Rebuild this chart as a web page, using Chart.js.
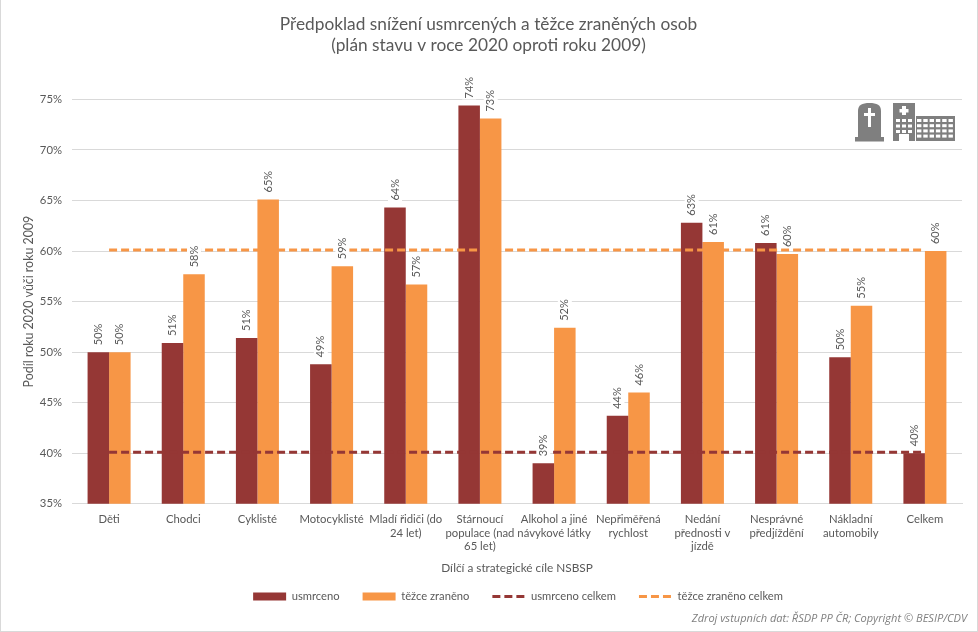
<!DOCTYPE html>
<html><head><meta charset="utf-8">
<script src="https://cdn.jsdelivr.net/npm/chart.js@4"></script>
<style>
html,body{margin:0;padding:0;background:#fff;overflow:hidden}
#wrap{position:relative;width:978px;height:632px}
#wrap:after{content:"";position:absolute;inset:0;border:1px solid #d9d9d9;border-top:0;pointer-events:none}
canvas{display:block}
#src{position:absolute;right:11px;top:610px;font:italic 11.05px "Open Sans",sans-serif;color:#7f7f7f;white-space:nowrap}
#icons{position:absolute;left:850px;top:100px}
</style></head><body>
<div id="wrap"><canvas id="c" width="978" height="632"></canvas>
<svg id="icons" width="110" height="44" fill="#7f7f7f"></svg>
<div id="src">Zdroj vstupních dat: ŘSDP PP ČR; Copyright © BESIP/CDV</div></div>
<script>
const categories=[["Děti"],["Chodci"],["Cyklisté"],["Motocyklisté"],["Mladí řidiči (do","24 let)"],["Stárnoucí","populace (nad","65 let)"],["Alkohol a jiné","návykové látky"],["Nepřiměřená","rychlost"],["Nedání","přednosti v","jízdě"],["Nesprávné","předjíždění"],["Nákladní","automobily"],["Celkem"]];
const usmrceno=[50,50.9,51.4,48.8,64.3,74.4,39,43.7,62.8,60.8,49.5,40];
const tezce=[50,57.7,65.1,58.5,56.7,73.1,52.4,46,60.9,59.7,54.6,60];
const usmrcenoCelkem=[40.1,40.1,40.1,40.1,40.1,40.1,40.1,40.1,40.1,40.1,40.1,40.1];
const tezceCelkem=[60.1,60.1,60.1,60.1,60.1,60.1,60.1,60.1,60.1,60.1,60.1,60.1];
const DARK="#953735",ORANGE="#f79646",TXT="#595959",GRID="#d9d9d9",FONT="Lato, 'Noto Sans', sans-serif";

const barLabels={id:"barLabels",afterDatasetsDraw(chart){
  const ctx=chart.ctx;ctx.save();ctx.font="11px "+FONT;ctx.textAlign="left";ctx.textBaseline="middle";
  [0,1].forEach(i=>{chart.getDatasetMeta(i).data.forEach((el,j)=>{
    const t=Math.round(chart.data.datasets[i].data[j])+"%";
    const w=ctx.measureText(t).width;
    ctx.save();ctx.translate(el.x,el.y-7);ctx.rotate(-Math.PI/2);
    ctx.fillStyle="#fff";ctx.fillRect(-1,-7,w+2,14);
    ctx.fillStyle=TXT;ctx.fillText(t,0,0);ctx.restore();
  });});
  ctx.restore();
}};
const shiftLegend={id:"shiftLegend",afterLayout(chart){chart.legend.left+=52;chart.legend.top-=7;chart.titleBlock.left-=3.5;chart.titleBlock.right-=3.5;chart.titleBlock.top-=1;chart.titleBlock.bottom-=1;}};

new Chart(document.getElementById("c"),{
  type:"bar",
  plugins:[barLabels,shiftLegend],
  data:{labels:categories,datasets:[
    {label:"usmrceno",data:usmrceno,backgroundColor:DARK,borderWidth:0,order:2,categoryPercentage:0.58,barPercentage:1},
    {label:"těžce zraněno",data:tezce,backgroundColor:ORANGE,borderWidth:0,order:2,categoryPercentage:0.58,barPercentage:1},
    {type:"line",label:"usmrceno celkem",data:usmrcenoCelkem,borderColor:DARK,backgroundColor:DARK,borderWidth:3,borderDash:[8,4],pointRadius:0,order:1},
    {type:"line",label:"těžce zraněno celkem",data:tezceCelkem,borderColor:ORANGE,backgroundColor:ORANGE,borderWidth:3,borderDash:[8,4],pointRadius:0,order:1}
  ]},
  options:{
    responsive:false,animation:false,devicePixelRatio:1,
    layout:{padding:{left:22,right:16,top:10,bottom:13}},
    plugins:{
      title:{display:true,text:["Předpoklad snížení usmrcených a těžce zraněných osob","(plán stavu v roce 2020 oproti roku 2009)"],color:TXT,font:{family:FONT,size:17.3,weight:"normal",lineHeight:1.21},padding:{top:5,bottom:42.5}},
      legend:{position:"bottom",labels:{color:TXT,font:{family:FONT,size:11.2},usePointStyle:true,boxHeight:8,pointStyleWidth:33,padding:23,
        generateLabels(chart){return chart.data.datasets.map((d,i)=>({text:d.label,datasetIndex:i,fillStyle:d.backgroundColor,strokeStyle:d.type==="line"?d.borderColor:d.backgroundColor,lineWidth:d.type==="line"?3:0,lineDash:d.type==="line"?[8,4]:[],pointStyle:d.type==="line"?"line":"rect",fontColor:TXT}));}}},
      tooltip:{enabled:false}
    },
    scales:{
      x:{grid:{display:false},border:{color:GRID},
        ticks:{color:TXT,font:{family:FONT,size:11.3},autoSkip:false,maxRotation:0,minRotation:0,padding:1},
        title:{display:true,text:"Dílčí a strategické cíle NSBSP",color:TXT,font:{family:FONT,size:11.8},padding:{top:2,bottom:0}},
        afterFit(s){s.height=71;}},
      y:{min:35,max:75,grid:{color:GRID,drawTicks:false},border:{display:false},
        ticks:{stepSize:5,color:TXT,font:{family:FONT,size:11.3},padding:10,callback:v=>v+"%"},
        title:{display:true,text:"Podíl roku 2020 vůči roku 2009",color:TXT,font:{family:FONT,size:12.4},padding:{top:0,bottom:4}},
        afterFit(s){s.width=50;}}
    }
  }
});

/* decorative icons */
const svg=document.getElementById("icons");let h="";
const R=(x,y,w,h2,f)=>`<rect x="${x}" y="${y}" width="${w}" height="${h2}"${f?` fill="${f}"`:""}/>`;
h+=`<path d="M8 38V11C8 5 12 3 19.5 3S31 5 31 11V38Z"/>`+R(5,37,29,4.5);
h+=R(18,8,3,19,"#fff")+R(14,13,11,3,"#fff");
h+=R(43,3,22,38)+R(66,16,39,25);
h+=R(52,6,4,9,"#fff")+R(49.5,9,9,3.5,"#fff");
for(let r=0;r<3;r++)for(let c=0;c<3;c++)h+=R(46+c*6,19+r*5.5,4,3,"#fff");
h+=R(49,34,10,7,"#fff");
for(let r=0;r<4;r++)for(let c=0;c<6;c++)h+=R(67+c*6.3,19+r*5.2,4.4,3,"#fff");
svg.innerHTML=h;
</script></body></html>
